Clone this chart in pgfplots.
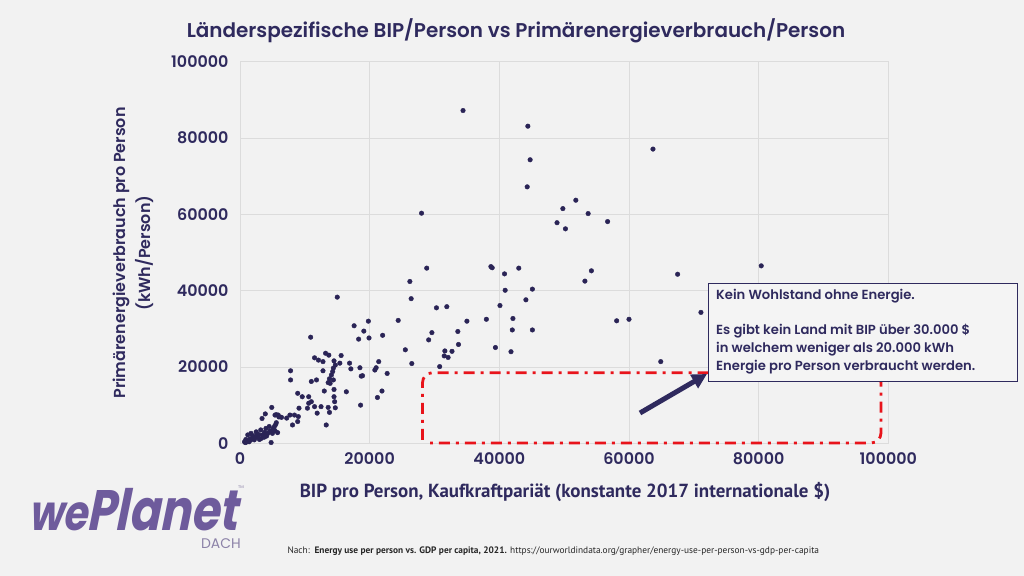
\documentclass[border=0pt]{standalone}
\usepackage{pgfplots}
\pgfplotsset{compat=1.18}
\usepackage{pgfplotstable}
\usepackage{fontspec}
\setmainfont{Poppins}
\newfontfamily\psemi{Poppins SemiBold}
\newfontfamily\ptsans{PT Sans}
\newfontfamily\logofont[FakeSlant=0.25]{Poppins}
\usetikzlibrary{arrows.meta}
\definecolor{bgcol}{HTML}{F2F2F2}
\definecolor{navy}{HTML}{2F2A5E}
\definecolor{dotcol}{HTML}{2A2456}
\definecolor{gridcol}{HTML}{DCDCDC}
\definecolor{redbox}{HTML}{E8141B}
\definecolor{logocol}{HTML}{6E5B9C}
\definecolor{dachcol}{HTML}{8C82A8}
\definecolor{boxfill}{HTML}{F4F4F4}

\pgfplotstableread{
x y
34400 87200
44400 83100
44750 74300
44300 67200
63700 77100
51800 63700
49800 61500
53700 60200
48900 57800
50200 56200
56700 58100
28000 60300
28800 45900
26200 42400
26400 37900
38700 46300
38900 46000
40800 44400
43000 45900
40900 40100
45100 40400
44100 37600
40100 36100
54200 45200
53200 42500
67500 44300
58100 32100
60000 32500
64900 21400
80400 46500
71100 34300
42100 32700
42000 29700
45100 29700
38000 32500
39400 25100
41800 24000
35000 32000
33600 29300
33700 25900
31900 35800
30300 35500
24400 32200
22000 28300
29600 29000
29100 27100
25500 24500
26500 20900
31600 24200
32700 24100
31500 22900
32100 22500
30800 20100
15000 38300
10900 27800
17600 30800
19800 32000
19100 29400
18300 27300
19900 27600
21400 21400
15600 23000
13200 23600
13700 23100
11500 22400
12100 21800
12800 21400
14500 21600
14700 20500
15400 21000
16900 21000
17100 19500
18500 19800
18900 17700
18700 17600
20800 19200
21000 19800
22700 18300
14400 19700
14300 18800
12800 19000
14100 17900
13800 16900
14400 16600
13900 15700
13600 15900
7800 19000
7800 16600
11000 16200
11800 16600
13000 13700
14500 14100
16400 13500
14500 12200
14600 10900
14700 9300
21900 13700
21200 12000
18600 10000
8900 13100
9600 12200
10600 12200
10600 10500
11000 10900
11500 9600
10400 9200
12500 9600
13600 9400
13800 8100
11900 7900
9100 9200
8400 7400
9000 7000
8100 4800
8900 5700
13300 4800
7700 7400
7200 6600
6400 6800
5900 7400
5400 7400
4900 9400
3900 7700
3400 6500
5600 7500
4800 200
5600 5400
5300 4400
5400 3300
5000 2600
5800 2800
4500 4400
4000 3900
3200 3500
2500 3000
1700 2600
1200 2200
900 1000
700 400
2000 1300
2700 1700
3500 2200
4300 2600
1400 400
2200 900
3000 1000
3750 1600
1000 300
1600 800
2400 1500
2900 2300
3300 1300
4100 1900
4600 3200
5100 3800
5500 4900
6000 6900
1900 2000
2600 2400
3800 2900
800 200
1100 500
1500 1100
2100 1700
}\scatterdata

\begin{document}
\begin{tikzpicture}[x=1bp,y=1bp]
\fill[bgcol] (0,0) rectangle (1024,576);
\useasboundingbox (0,0) rectangle (1024,576);

% title
\node[text=navy, font=\psemi\fontsize{20}{24}\selectfont] at (516,576-31) {Länderspezifische BIP/Person vs Primärenergieverbrauch/Person};

\begin{axis}[
  at={(240bp,132.7bp)}, anchor=south west,
  scale only axis, width=648.3bp, height=381.6bp,
  xmin=0, xmax=100000, ymin=0, ymax=100000,
  scaled ticks=false,
  xtick={0,20000,40000,60000,80000,100000},
  ytick={0,20000,40000,60000,80000,100000},
  xticklabels={0,20000,40000,60000,80000,100000},
  yticklabels={0,20000,40000,60000,80000,100000},
  grid=major,
  grid style={gridcol, line width=0.9bp},
  axis line style={gridcol, line width=0.9bp},
  tick style={draw=none},
  ticklabel style={text=navy, font=\psemi\fontsize{16}{16}\selectfont},
  yticklabel style={xshift=-8bp},
  xticklabel style={yshift=-6bp},
  clip=false,
]
\addplot[only marks, mark=*, mark size=2.3bp, mark options={fill=dotcol, draw=dotcol}] table[x=x,y=y] {\scatterdata};
\end{axis}

% y label
\node[rotate=90, align=center, text=navy, font=\psemi\fontsize{16}{25}\selectfont] at (133,576-253) {Primärenergieverbrauch pro Person\\(kWh/Person)};

% x label
\node[text=navy, font=\ptsans\bfseries\fontsize{19}{22}\selectfont] at (565,576-492) {BIP pro Person, Kaufkraftpariät (konstante 2017 internationale \$)};

% footnote
\node[text=black!85, font=\ptsans\fontsize{9.4}{11}\selectfont, anchor=west] at (284,576-551) {Nach:\enspace\textbf{Energy use per person vs. GDP per capita, 2021.} https://ourworldindata.org/grapher/energy-use-per-person-vs-gdp-per-capita};

% red box
\draw[redbox, line width=2.8bp, dash pattern=on 11bp off 6bp on 3bp off 6bp, rounded corners=10bp]
  (422.5,576-440) -- (422.5,576-372.7) -- (881,576-372.7) -- (881,576-443) -- (430,576-443);

% annotation box
\draw[navy, line width=1bp, fill=boxfill] (708.3,576-283.3) rectangle (1017.3,576-381.7);
\node[anchor=north west, align=left, text=navy, font=\psemi\fontsize{13.2}{18}\selectfont, inner sep=0pt] at (716,576-289) {Kein Wohlstand ohne Energie.\\[17bp]Es gibt kein Land mit BIP über 30.000 \$\\in welchem weniger als 20.000 kWh\\Energie pro Person verbraucht werden.};

% arrow
\draw[navy, line width=5bp, -{Triangle[length=15bp,width=15bp]}] (640,576-413) -- (707,576-374);

% logo
\node[anchor=base west, text=logocol, font=\logofont\bfseries\fontsize{44}{44}\selectfont, inner sep=0pt, xscale=1.05, yscale=1.3, transform shape] at (28,576-531) {\fontsize{38}{38}\selectfont we\kern-1bp\fontsize{44}{44}\selectfont Planet};
\node[anchor=base east, text=dachcol, font=\fontsize{14}{14}\selectfont, inner sep=0pt] at (241,576-549) {DACH};
\node[anchor=center, text=dachcol, font=\fontsize{4}{4}\selectfont, inner sep=0pt] at (241,576-487) {TM};
\end{tikzpicture}
\end{document}
